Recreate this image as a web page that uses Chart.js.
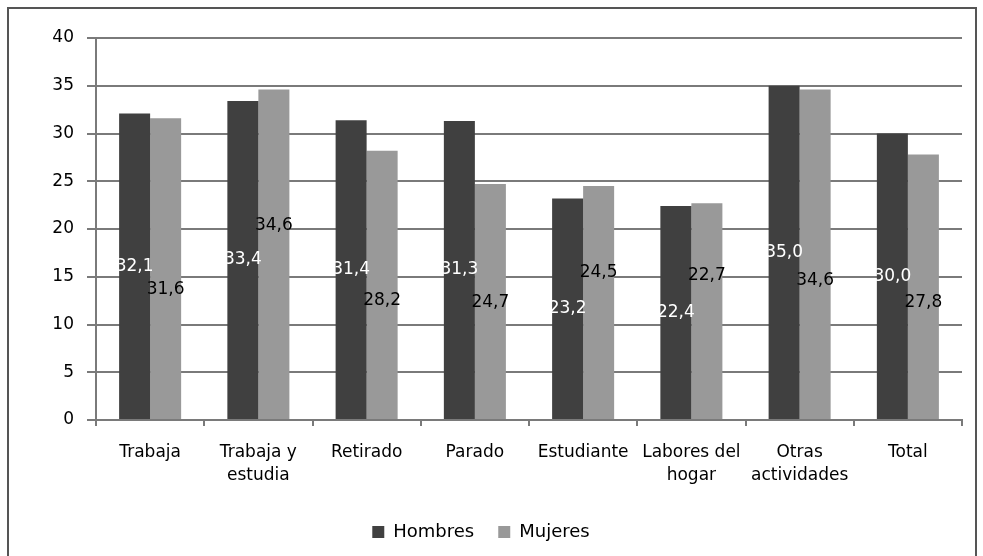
<!DOCTYPE html>
<html>
<head>
<meta charset="utf-8">
<script src="https://cdn.jsdelivr.net/npm/chart.js@4"></script>
<style>
  body { margin: 0; background: #fff; }
  #marco { position: absolute; left: 7px; top: 7px; width: 966px; height: 570px; border: 2px solid #555; }
  #lienzo { position: absolute; left: 0; top: 0; }
</style>
</head>
<body>
<div id="marco"></div>
<canvas id="lienzo" width="983" height="556"></canvas>
<script>
let categorias = ['Trabaja', ['Trabaja y', 'estudia'], 'Retirado', 'Parado', 'Estudiante', ['Labores del', 'hogar'], ['Otras', 'actividades'], 'Total'];
let hombres = [32.1, 33.4, 31.4, 31.3, 23.2, 22.4, 35.0, 30.0];
let mujeres = [31.6, 34.6, 28.2, 24.7, 24.5, 22.7, 34.6, 27.8];
// altura (en unidades del eje) donde van las etiquetas de Mujeres
let alturaEtiquetaMujeres = [13.7, 20.4, 12.5, 12.3, 15.4, 15.1, 14.6, 12.3];

let FUENTE = 'DejaVu Sans';
let GRIS = '#7a7a7a';

function formato(v) {
    return v.toFixed(1).replace('.', ',');
}

// Etiquetas de datos dibujadas sobre las barras
let etiquetas = {
    id: 'etiquetas',
    afterDatasetsDraw(chart) {
        let ctx = chart.ctx;
        let y = chart.scales.y;
        ctx.save();
        ctx.font = '17px "' + FUENTE + '"';
        ctx.textAlign = 'center';
        ctx.textBaseline = 'middle';
        chart.getDatasetMeta(0).data.forEach((barra, i) => {
            ctx.fillStyle = '#ffffff';
            ctx.fillText(formato(hombres[i]), barra.x, (barra.y + barra.base) / 2);
        });
        chart.getDatasetMeta(1).data.forEach((barra, i) => {
            ctx.fillStyle = '#000000';
            ctx.fillText(formato(mujeres[i]), barra.x, y.getPixelForValue(alturaEtiquetaMujeres[i]));
        });
        ctx.restore();
    }
};

let ctx = document.getElementById('lienzo').getContext('2d');
let grafico = new Chart(ctx, {
    type: 'bar',
    data: {
        labels: categorias,
        datasets: [{
            label: 'Hombres',
            data: hombres,
            backgroundColor: '#404040',
            categoryPercentage: 0.573,
            barPercentage: 1
        }, {
            label: 'Mujeres',
            data: mujeres,
            backgroundColor: '#999999',
            categoryPercentage: 0.573,
            barPercentage: 1
        }]
    },
    options: {
        responsive: false,
        animation: false,
        layout: { padding: { left: 0, right: 21, top: 38, bottom: 5 } },
        plugins: {
            tooltip: { enabled: false },
            legend: {
                position: 'bottom',
                labels: {
                    boxWidth: 12,
                    boxHeight: 12,
                    padding: 24,
                    color: '#000',
                    font: { family: FUENTE, size: 18 }
                }
            }
        },
        scales: {
            x: {
                afterFit: s => { s.height = 79; },
                grid: {
                    drawOnChartArea: false,
                    drawTicks: true,
                    tickLength: 6,
                    color: GRIS,
                    lineWidth: 2
                },
                border: { color: GRIS, width: 2 },
                ticks: {
                    color: '#000',
                    padding: 15,
                    maxRotation: 0,
                    font: { family: FUENTE, size: 17, lineHeight: 1.35 }
                }
            },
            y: {
                min: 0,
                max: 40,
                afterFit: s => { s.width = 96; },
                grid: {
                    color: GRIS,
                    lineWidth: 2,
                    tickLength: 9
                },
                border: { color: GRIS, width: 2 },
                ticks: {
                    stepSize: 5,
                    color: '#000',
                    padding: 13,
                    font: { family: FUENTE, size: 17 }
                }
            }
        }
    },
    plugins: [etiquetas]
});
</script>
</body>
</html>
